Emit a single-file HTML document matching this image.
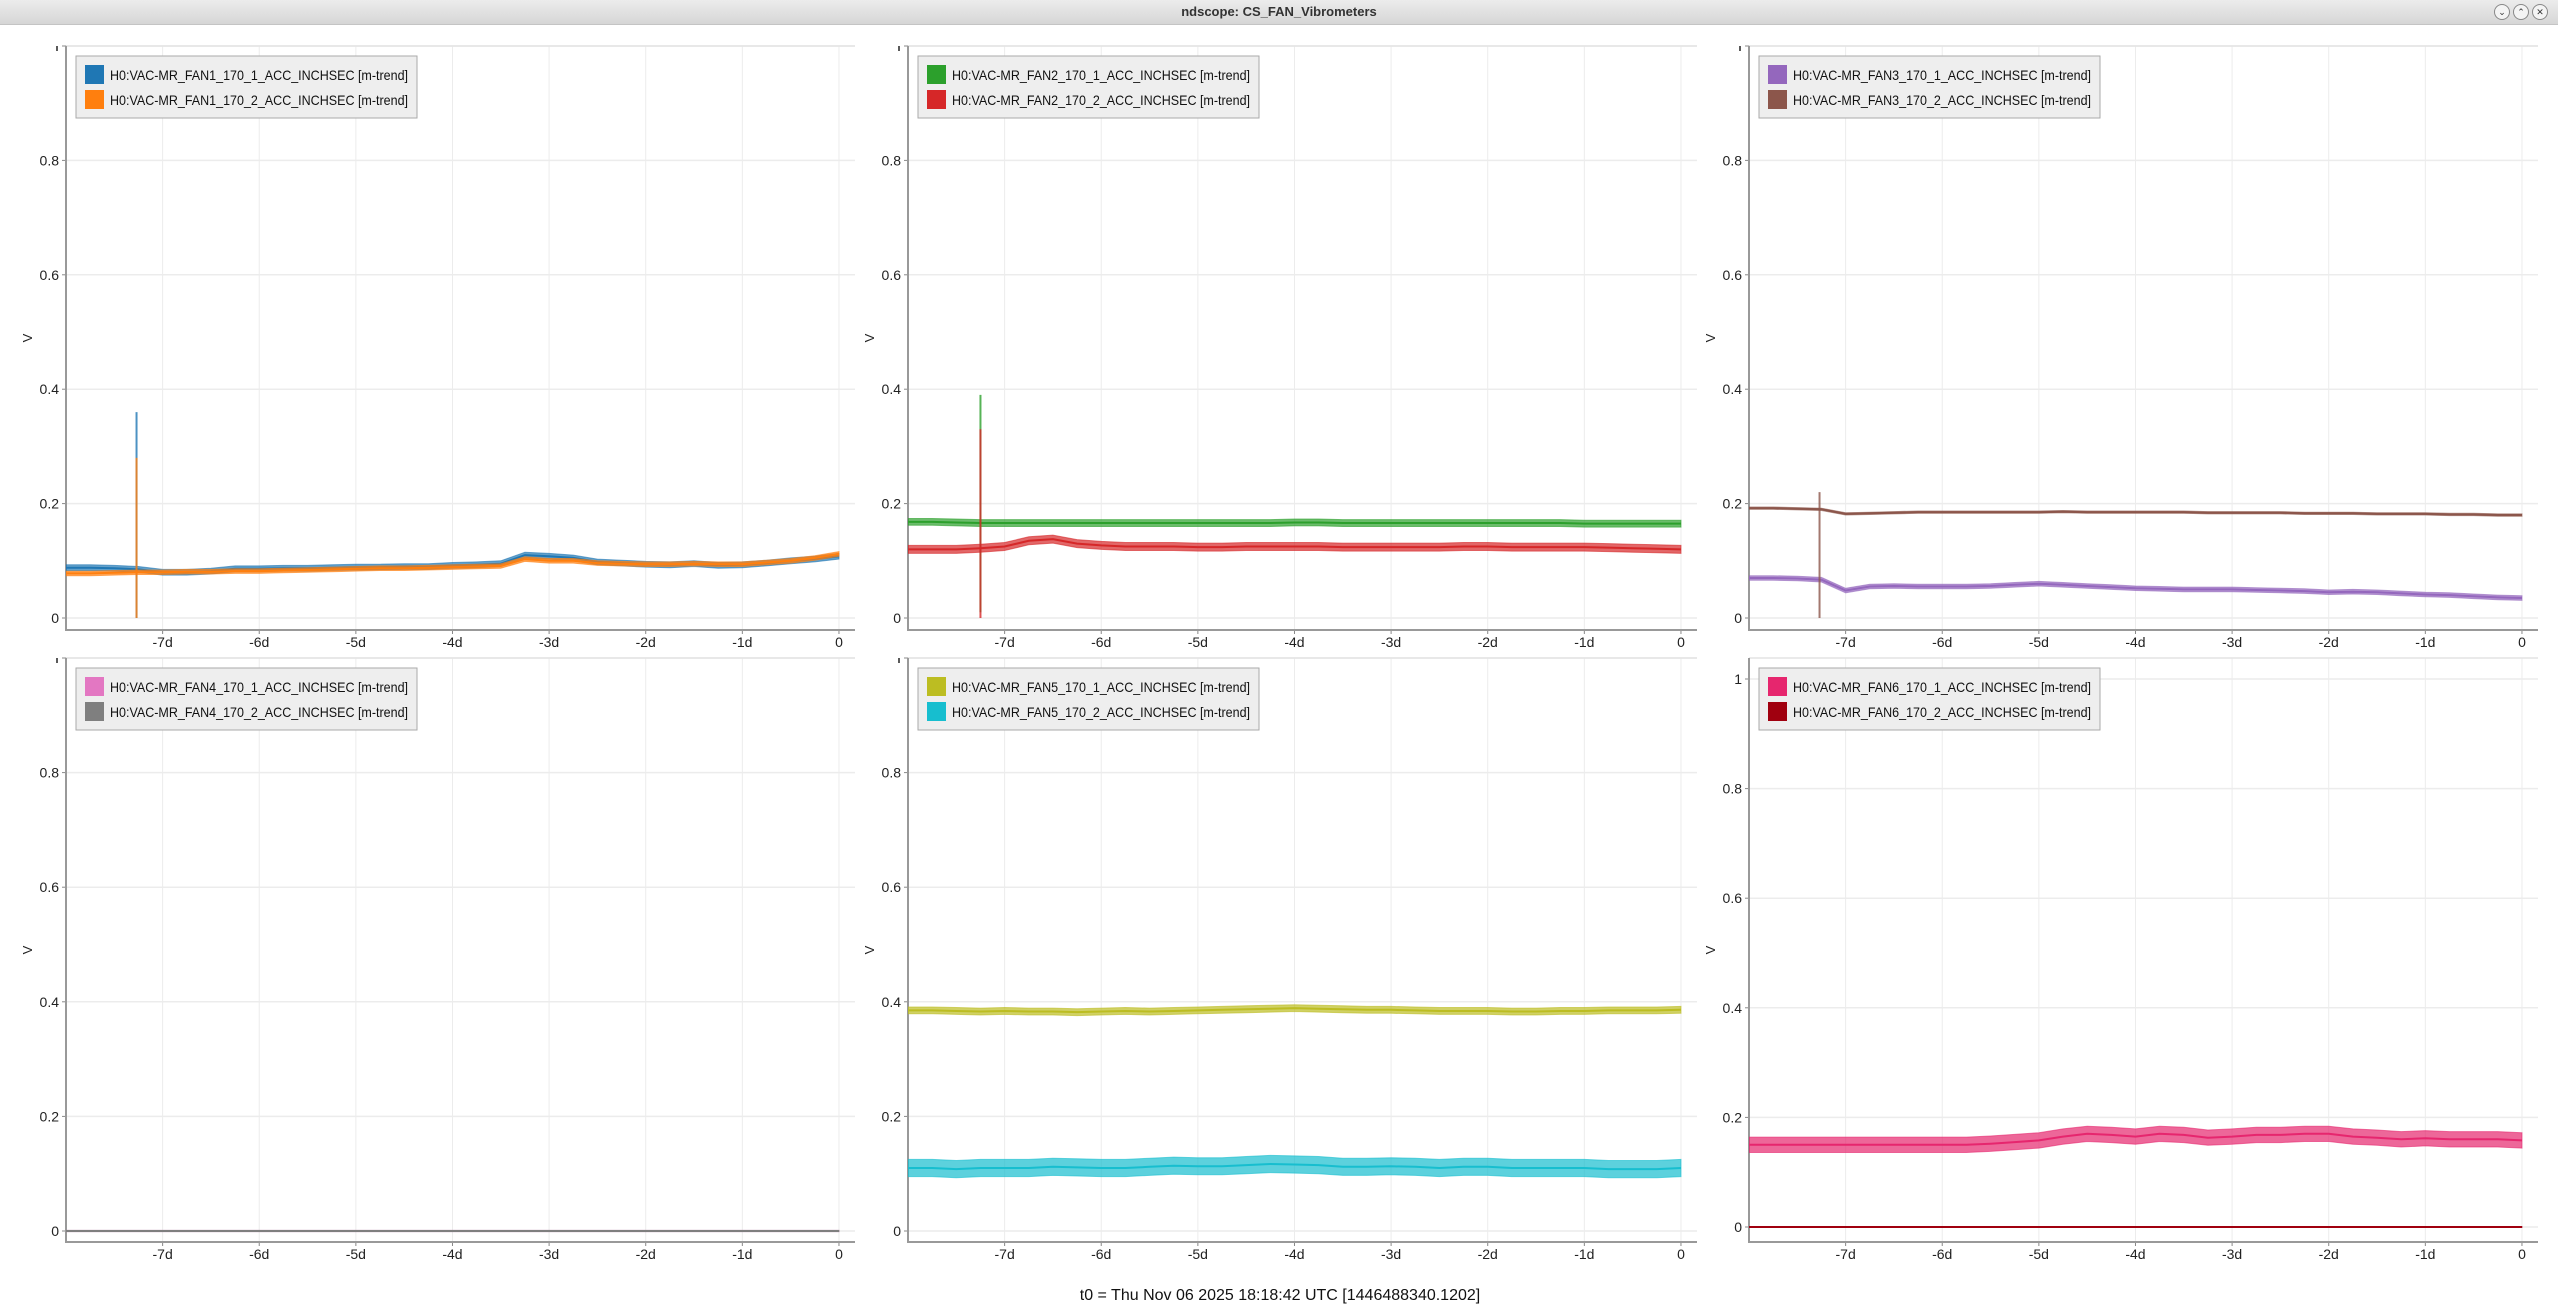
<!DOCTYPE html>
<html><head><meta charset="utf-8"><style>
html,body{margin:0;padding:0;background:#fff;}
body{width:2558px;height:1316px;overflow:hidden;font-family:"Liberation Sans",sans-serif;}
#titlebar{position:absolute;left:0;top:0;width:2558px;height:24px;background:linear-gradient(#ececec,#d6d6d6);border-bottom:1px solid #c4c4c4;}
#title{position:absolute;left:0;width:100%;top:4px;text-align:center;font-size:13px;font-weight:bold;color:#333;}
.wbtn{position:absolute;top:4px;width:14px;height:14px;border-radius:50%;border:1px solid #888;background:#f4f4f4;font-size:9px;line-height:14px;text-align:center;color:#333;}
svg{position:absolute;left:0;top:0;}
</style></head><body>
<div id="titlebar"><div id="title">ndscope: CS_FAN_Vibrometers</div>
<div class="wbtn" style="left:2494px">⌄</div>
<div class="wbtn" style="left:2513px">⌃</div>
<div class="wbtn" style="left:2532px">✕</div></div>
<svg id="chart" width="2558" height="1316"></svg>
<script>
const T=[];for(let i=0;i<=32;i++)T.push(-8+i*0.25);
const xTicks=[-7,-6,-5,-4,-3,-2,-1,0];
const xTickLabels=["-7d","-6d","-5d","-4d","-3d","-2d","-1d","0"];
const yTicks=[0,0.2,0.4,0.6,0.8,1];
const yTickLabels=["0","0.2","0.4","0.6","0.8","1"];
const fan1_1=[0.088,0.088,0.087,0.085,0.08,0.08,0.082,0.086,0.086,0.087,0.087,0.088,0.089,0.089,0.09,0.09,0.092,0.093,0.095,0.11,0.108,0.105,0.098,0.096,0.094,0.093,0.095,0.092,0.093,0.096,0.1,0.103,0.108];
const fan1_2=[0.078,0.078,0.079,0.08,0.08,0.081,0.081,0.082,0.082,0.083,0.084,0.085,0.086,0.087,0.087,0.088,0.089,0.09,0.091,0.103,0.1,0.1,0.096,0.095,0.094,0.094,0.095,0.094,0.094,0.097,0.1,0.105,0.112];
const fan2_1=[0.168,0.168,0.167,0.166,0.166,0.166,0.166,0.166,0.166,0.166,0.166,0.166,0.166,0.166,0.166,0.166,0.167,0.167,0.166,0.166,0.166,0.166,0.166,0.166,0.166,0.166,0.166,0.166,0.165,0.165,0.165,0.165,0.165];
const fan2_2=[0.12,0.12,0.12,0.122,0.125,0.135,0.138,0.13,0.127,0.125,0.125,0.125,0.124,0.124,0.125,0.125,0.125,0.125,0.124,0.124,0.124,0.124,0.124,0.125,0.125,0.124,0.124,0.124,0.124,0.123,0.122,0.121,0.12];
const fan3_1=[0.07,0.07,0.069,0.067,0.048,0.055,0.056,0.055,0.055,0.055,0.056,0.058,0.06,0.058,0.056,0.054,0.052,0.051,0.05,0.05,0.05,0.049,0.048,0.047,0.045,0.046,0.045,0.043,0.041,0.04,0.038,0.036,0.035];
const fan3_2=[0.192,0.192,0.191,0.19,0.182,0.183,0.184,0.185,0.185,0.185,0.185,0.185,0.185,0.186,0.185,0.185,0.185,0.185,0.185,0.184,0.184,0.184,0.184,0.183,0.183,0.183,0.182,0.182,0.182,0.181,0.181,0.18,0.18];
const fan4_1=T.map(()=>0);
const fan4_2=T.map(()=>0);
const fan5_1=[0.385,0.385,0.384,0.383,0.384,0.383,0.383,0.382,0.383,0.384,0.383,0.384,0.385,0.386,0.387,0.388,0.389,0.388,0.387,0.386,0.386,0.385,0.384,0.384,0.384,0.383,0.383,0.384,0.384,0.385,0.385,0.385,0.386];
const fan5_2=[0.11,0.11,0.108,0.11,0.11,0.11,0.112,0.111,0.11,0.11,0.112,0.114,0.113,0.113,0.115,0.117,0.116,0.115,0.112,0.112,0.113,0.112,0.11,0.112,0.112,0.11,0.11,0.11,0.11,0.108,0.108,0.108,0.11];
const fan6_1=[0.15,0.15,0.15,0.15,0.15,0.15,0.15,0.15,0.15,0.15,0.152,0.155,0.158,0.165,0.17,0.168,0.165,0.17,0.168,0.163,0.165,0.168,0.168,0.17,0.17,0.165,0.163,0.16,0.162,0.16,0.16,0.16,0.158];
const fan6_2=T.map(()=>0);

const panels=[
 {name:"fan1",col:0,row:0,series:[{n:"H0:VAC-MR_FAN1_170_1_ACC_INCHSEC [m-trend]",c:"#1f77b4",v:fan1_1,a:0.005,sp:[-7.27,0.36,0]},{n:"H0:VAC-MR_FAN1_170_2_ACC_INCHSEC [m-trend]",c:"#ff7f0e",v:fan1_2,a:0.004,sp:[-7.27,0.28,0]}]},
 {name:"fan2",col:1,row:0,series:[{n:"H0:VAC-MR_FAN2_170_1_ACC_INCHSEC [m-trend]",c:"#2ca02c",v:fan2_1,a:0.006,sp:[-7.25,0.39,0.01]},{n:"H0:VAC-MR_FAN2_170_2_ACC_INCHSEC [m-trend]",c:"#d62728",v:fan2_2,a:0.007,sp:[-7.25,0.33,0]}]},
 {name:"fan3",col:2,row:0,series:[{n:"H0:VAC-MR_FAN3_170_1_ACC_INCHSEC [m-trend]",c:"#9467bd",v:fan3_1,a:0.004,sp:null},{n:"H0:VAC-MR_FAN3_170_2_ACC_INCHSEC [m-trend]",c:"#8c564b",v:fan3_2,a:0.002,sp:[-7.27,0.22,0]}]},
 {name:"fan4",col:0,row:1,series:[{n:"H0:VAC-MR_FAN4_170_1_ACC_INCHSEC [m-trend]",c:"#e377c2",v:fan4_1,a:0.001,sp:null},{n:"H0:VAC-MR_FAN4_170_2_ACC_INCHSEC [m-trend]",c:"#7f7f7f",v:fan4_2,a:0.001,sp:null}]},
 {name:"fan5",col:1,row:1,series:[{n:"H0:VAC-MR_FAN5_170_1_ACC_INCHSEC [m-trend]",c:"#bcbd22",v:fan5_1,a:0.006,sp:null},{n:"H0:VAC-MR_FAN5_170_2_ACC_INCHSEC [m-trend]",c:"#17becf",v:fan5_2,a:0.015,sp:null}]},
 {name:"fan6",col:2,row:1,y0:1227,y1:679,series:[{n:"H0:VAC-MR_FAN6_170_1_ACC_INCHSEC [m-trend]",c:"#e6266e",v:fan6_1,a:0.014,sp:null},{n:"H0:VAC-MR_FAN6_170_2_ACC_INCHSEC [m-trend]",c:"#a0000f",v:fan6_2,a:0.001,sp:null}]}
];
const colAxis=[66,908,1749],colRight=[855,1697,2538];
const rowTop=[46,658],rowZero=[618,1231],rowAxis=[630,1242];
const NS="http://www.w3.org/2000/svg";
const svg=document.getElementById('chart');
function mk(tag,attrs,parent){const e=document.createElementNS(NS,tag);for(const k in attrs)e.setAttribute(k,attrs[k]);(parent||svg).appendChild(e);return e;}
panels.forEach(p=>{
 const L=colAxis[p.col],R=colRight[p.col],top=rowTop[p.row],ax=rowAxis[p.row];
 const y0=p.y0||rowZero[p.row],y1=p.y1||top;
 const dayW=(R-L)/8.166;
 const xs=t=>L+(t+8)*dayW;
 const ys=v=>y0-(y0-y1)*v;
 const g=mk('g',{});
 
 
 const cp=mk('clipPath',{id:'clip-'+p.name},g);mk('rect',{x:L,y:top,width:R-L,height:ax-top},cp);
 xTicks.forEach((t,i)=>{
  const gl=mk('line',{x1:xs(t),x2:xs(t),y1:top,y2:ax,stroke:'#ececec','stroke-width':1},g);
  
  mk('line',{x1:xs(t),x2:xs(t),y1:ax,y2:ax+4,stroke:'#888'},g);
  const tx=mk('text',{x:xs(t),y:ax+17,'font-size':14,fill:'#222','text-anchor':'middle'},g);tx.textContent=xTickLabels[i];
  
 });
 yTicks.forEach((v,i)=>{
  const y=ys(v);if(y<top-2)return;
  const gl=mk('line',{x1:L,x2:R,y1:y,y2:y,stroke:'#ececec','stroke-width':1.5},g);
  
  mk('line',{x1:L-4,x2:L,y1:y,y2:y,stroke:'#888'},g);
  if(y<top+6){mk('line',{x1:L-9,x2:L-9,y1:top,y2:top+5,stroke:'#222','stroke-width':1.5},g);return;}
  const tx=mk('text',{x:L-7,y:y+5,'font-size':14,fill:'#222','text-anchor':'end'},g);tx.textContent=yTickLabels[i];
  
 });
 mk('line',{x1:L,x2:R,y1:top,y2:top,stroke:'#e4e4e4','stroke-width':1.5},g);
 const axl=mk('path',{d:`M${L},${top}V${ax}H${R}`,fill:'none',stroke:'#999','stroke-width':2},g);
 
 const yl=mk('text',{x:0,y:0,'font-size':13,fill:'#222','text-anchor':'middle',transform:`translate(${L-34},${(top+ax)/2}) rotate(-90)`},g);yl.textContent='V';
 
 const dg=mk('g',{'clip-path':`url(#clip-${p.name})`},g);
 p.series.forEach((s,si)=>{
  const up=T.map((t,i)=>xs(t).toFixed(1)+','+ys(s.v[i]+s.a).toFixed(1));
  const lo=T.map((t,i)=>xs(t).toFixed(1)+','+ys(s.v[i]-s.a).toFixed(1)).reverse();
  const band=mk('polygon',{points:up.concat(lo).join(' '),fill:s.c,'fill-opacity':0.7,stroke:s.c,'stroke-opacity':0.6,'stroke-width':1},dg);
  
  const ln=mk('polyline',{points:T.map((t,i)=>xs(t).toFixed(1)+','+ys(s.v[i]).toFixed(1)).join(' '),fill:'none',stroke:s.c,'stroke-width':2},dg);
  
  if(s.sp){const sl=mk('line',{x1:xs(s.sp[0]),x2:xs(s.sp[0]),y1:ys(s.sp[1]),y2:ys(s.sp[2]),stroke:s.c,'stroke-width':2,'stroke-opacity':0.8},dg);
   }
 });
 const lg=mk('g',{},g);
 
 mk('rect',{x:L+10,y:top+10,width:341,height:62,fill:'#eeeeee',stroke:'#aaa','stroke-width':1},lg);
 p.series.forEach((s,si)=>{
  const yy=top+19+si*25;
  const sw=mk('rect',{x:L+19,y:yy,width:19,height:19,fill:s.c},lg);
  
  const tx=mk('text',{x:L+44,y:yy+15,'font-size':14,fill:'#111',textLength:298,lengthAdjust:'spacingAndGlyphs'},lg);tx.textContent=s.n;
  
 });
});
const ft=mk('text',{x:1280,y:1300,'font-size':16,fill:'#111','text-anchor':'middle'});
ft.textContent='t0 = Thu Nov 06 2025 18:18:42 UTC [1446488340.1202]';


</script>
</body></html>
